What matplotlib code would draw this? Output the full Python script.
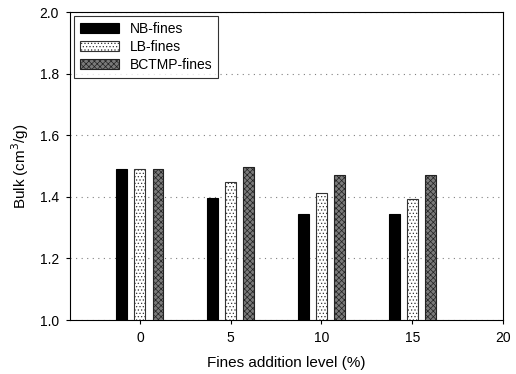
import matplotlib
matplotlib.use("Agg")
import matplotlib.pyplot as plt
import numpy as np

plt.rcParams['font.family'] = ['Liberation Sans', 'DejaVu Sans']
plt.rcParams['hatch.linewidth'] = 0.5

levels = [0, 5, 10, 15]
nb_fines = [1.49, 1.395, 1.345, 1.343]
lb_fines = [1.49, 1.447, 1.412, 1.393]
bctmp_fines = [1.49, 1.496, 1.471, 1.471]
series_names = ['NB-fines', 'LB-fines', 'BCTMP-fines']

fig = plt.figure(figsize=(5.16, 3.74), dpi=100)
ax = fig.add_axes([70/516, 1-320/374, 433/516, 308/374])

x = np.array(levels)
w = 0.6
ax.bar(x - 1, nb_fines, w, color='black', edgecolor='black', lw=0.8,
       label=series_names[0], zorder=3)
ax.bar(x, lb_fines, w, color='white', edgecolor='#333333', lw=0.8,
       hatch='.....', label=series_names[1], zorder=3)
ax.bar(x + 1, bctmp_fines, w, color='#7a7a7a', edgecolor='#222222', lw=0.8,
       hatch='xxxxxx', label=series_names[2], zorder=3)

ax.set_xlim(-3.85, 20)
ax.set_ylim(1.0, 2.0)
ax.set_xticks([0, 5, 10, 15, 20])
ax.set_yticks(np.arange(1.0, 2.01, 0.2))
ax.set_yticklabels(['%.1f' % v for v in np.arange(1.0, 2.01, 0.2)])
ax.yaxis.grid(True, ls=(0, (1, 4)), color='gray', lw=0.8)
ax.tick_params(labelsize=10, length=3, direction='out', pad=5)

ax.set_xlabel('Fines addition level (%)', fontsize=11, labelpad=8)
ax.set_ylabel('Bulk (cm$^3$/g)', fontsize=11, labelpad=6)

leg = ax.legend(loc='upper left', fontsize=10, frameon=True, fancybox=False,
                edgecolor='black', handlelength=2.8, borderaxespad=0.3,
                labelspacing=0.3)
leg.get_frame().set_linewidth(0.8)

fig.savefig('out.png', dpi=100)
